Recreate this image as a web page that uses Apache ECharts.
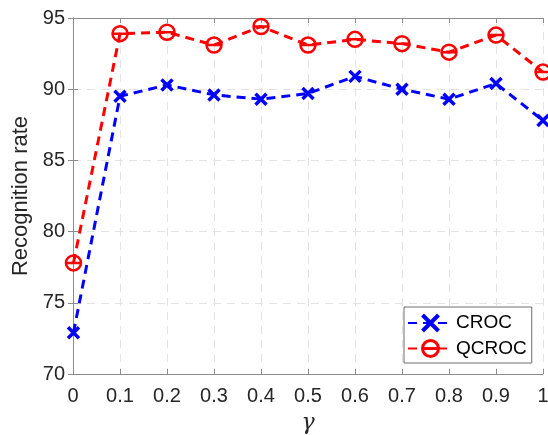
<!DOCTYPE html>
<html>
<head>
<meta charset="utf-8">
<script src="https://cdn.jsdelivr.net/npm/echarts@6/dist/echarts.min.js"></script>
<style>
  html, body { margin: 0; padding: 0; background: #fff; }
  #chart { width: 548px; height: 435px; }
</style>
</head>
<body>
<div id="chart"></div>
<script>
// gamma values (x), first point sits just right of 0
const gammaValues = [0.001, 0.1, 0.2, 0.3, 0.4, 0.5, 0.6, 0.7, 0.8, 0.9, 1.0];
const crocRates  = [72.9, 89.5, 90.3, 89.6, 89.3, 89.7, 90.9, 90.0, 89.3, 90.4, 87.8];
const qcrocRates = [77.8, 93.9, 94.0, 93.1, 94.4, 93.1, 93.5, 93.2, 92.6, 93.8, 91.2];
const xTicks = [0, 0.1, 0.2, 0.3, 0.4, 0.5, 0.6, 0.7, 0.8, 0.9, 1];
const yTicks = [70, 75, 80, 85, 90, 95];

const toPairs = (ys) => gammaValues.map((g, i) => [g, ys[i]]);

const font = 'Liberation Sans, Arial, sans-serif';
const frameColor = '#8c8c8c';
const labelColor = '#262626';

// 标记：叉号 和 带横线的圆
const crossSymbol = 'path://M0,0L10,10M10,0L0,10';
const circleBar = 'path://M-10,0A10,10,0,1,1,10,0A10,10,0,1,1,-10,0ZM-10,0L10,0';

const chart = echarts.init(document.getElementById('chart'));

const gridLine = {
  show: true,
  lineStyle: { color: '#e3e3e3', type: [8, 6], width: 1 }
};

const option = {
  animation: false,
  backgroundColor: '#fff',
  grid: { left: 73, right: 5, top: 18, bottom: 61, outerBoundsMode: 'none', containLabel: false },
  legend: {
    orient: 'vertical',
    left: 404,
    top: 307,
    padding: [6, 5, 5, 3],
    itemGap: 6,
    itemWidth: 45,
    itemHeight: 20,
    backgroundColor: '#fff',
    borderColor: '#6e6e6e',
    borderWidth: 1,
    borderRadius: 0,
    textStyle: { fontFamily: font, fontSize: 19, color: '#000', padding: [0, 0, 0, -2] },
    data: [
      { name: 'CROC', itemStyle: { borderWidth: 4 } },
      { name: 'QCROC', itemStyle: { borderWidth: 3 } }
    ]
  },
  xAxis: [
    {
      type: 'value',
      min: 0,
      max: 1,
      interval: 0.1,
      name: 'γ',
      nameLocation: 'middle',
      nameGap: 38,
      nameTextStyle: { fontFamily: 'DejaVu Serif, serif', fontStyle: 'italic', fontSize: 22, color: labelColor },
      axisLine: { show: true, onZero: false, lineStyle: { color: frameColor, width: 1 } },
      axisTick: { show: true, inside: true, length: 5, lineStyle: { color: frameColor } },
      axisLabel: {
        fontFamily: font, fontSize: 20, color: labelColor, margin: 12,
        showMinLabel: true, showMaxLabel: true,
        formatter: (v) => (xTicks.includes(+v.toFixed(1)) ? String(+v.toFixed(1)) : '')
      },
      splitLine: gridLine
    },
    {
      type: 'value',
      position: 'top',
      min: 0,
      max: 1,
      interval: 0.1,
      axisLine: { show: true, lineStyle: { color: frameColor, width: 1 } },
      axisTick: { show: true, inside: true, length: 5, lineStyle: { color: frameColor } },
      axisLabel: { show: false },
      splitLine: { show: false }
    }
  ],
  yAxis: [
    {
      type: 'value',
      min: yTicks[0],
      max: yTicks[yTicks.length - 1],
      interval: 5,
      name: 'Recognition rate',
      nameLocation: 'middle',
      nameGap: 40,
      nameTextStyle: { fontFamily: font, fontSize: 22, color: labelColor },
      axisLine: { show: true, onZero: false, lineStyle: { color: frameColor, width: 1 } },
      axisTick: { show: true, inside: true, length: 5, lineStyle: { color: frameColor } },
      axisLabel: { fontFamily: font, fontSize: 20, color: labelColor, margin: 8 },
      splitLine: gridLine
    },
    {
      type: 'value',
      position: 'right',
      min: yTicks[0],
      max: yTicks[yTicks.length - 1],
      interval: 5,
      axisLine: { show: true, lineStyle: { color: frameColor, width: 1 } },
      axisTick: { show: true, inside: true, length: 5, lineStyle: { color: frameColor } },
      axisLabel: { show: false },
      splitLine: { show: false }
    }
  ],
  series: [
    {
      name: 'CROC',
      type: 'line',
      data: toPairs(crocRates),
      symbol: crossSymbol,
      symbolSize: 11,
      lineStyle: { color: '#0000ff', width: 3, type: [9, 6] },
      itemStyle: { color: '#0000ff', borderColor: '#0000ff', borderWidth: 3.5 },
      z: 3
    },
    {
      name: 'QCROC',
      type: 'line',
      data: toPairs(qcrocRates),
      symbol: circleBar,
      symbolSize: 15,
      lineStyle: { color: '#ff0000', width: 3, type: [9, 6] },
      itemStyle: { color: 'rgba(0,0,0,0)', borderColor: '#ff0000', borderWidth: 2.5 },
      z: 4
    }
  ]
};

chart.setOption(option);
</script>
</body>
</html>
